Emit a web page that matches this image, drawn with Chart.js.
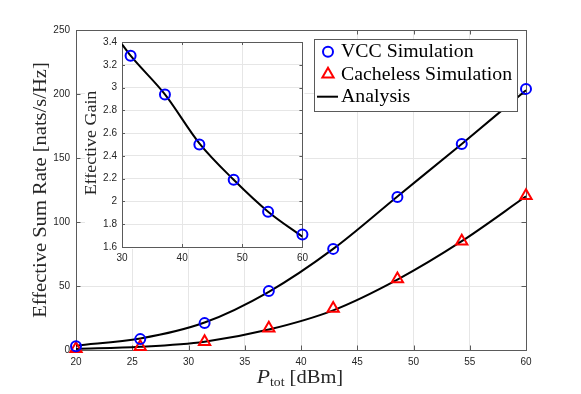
<!DOCTYPE html>
<html>
<head>
<meta charset="utf-8">
<script src="https://cdn.jsdelivr.net/npm/chart.js@4.4.1/dist/chart.umd.min.js"></script>
<style>
  html, body { margin: 0; padding: 0; background: #fff; }
  #wrap { position: relative; width: 581px; height: 394px; }
  #mainChart { position: absolute; left: 0; top: 0; }
  #insetChart { position: absolute; left: 85px; top: 31px; }
</style>
</head>
<body>
<div id="wrap">
  <canvas id="mainChart" width="581" height="394"></canvas>
  <canvas id="insetChart" width="228" height="235"></canvas>
</div>
<script>
// main plot data
const powerDbm = [20, 25.71, 31.43, 37.14, 42.86, 48.57, 54.29, 60];
const vccSim = [3, 8.5, 21, 46, 79, 119.5, 161, 204];
const cachelessSim = [1, 2.5, 6.5, 17, 32.5, 55.5, 85, 120.5];
const vccAnalysis = [3.4, 9, 21.5, 45.5, 79, 120, 161, 203];
const cachelessAnalysis = [0.8, 2.5, 6.5, 16, 31, 55, 85, 120];
const xTicks = [20, 25, 30, 35, 40, 45, 50, 55, 60];
const yTicks = [0, 50, 100, 150, 200, 250];

// inset data
const gainX = [31.43, 37.14, 42.86, 48.57, 54.29, 60];
const gainSim = [3.28, 2.94, 2.50, 2.19, 1.91, 1.71];
const gainAnalysisX = [30, 31.43, 37.14, 42.86, 48.57, 54.29, 60];
const gainAnalysis = [3.38, 3.28, 2.94, 2.51, 2.19, 1.91, 1.69];
const insetXTicks = [30, 40, 50, 60];
const insetYTicks = [1.6, 1.8, 2, 2.2, 2.4, 2.6, 2.8, 3, 3.2, 3.4];

Chart.defaults.font.family = '"Liberation Sans", Arial, sans-serif';

const pts = (xs, ys) => xs.map((x, i) => ({ x: x, y: ys[i] }));

function axis(min, max, ticks, fit, pad) {
  return {
    type: 'linear',
    min: min,
    max: max,
    afterBuildTicks: s => { s.ticks = ticks.map(v => ({ value: v })); },
    afterFit: fit,
    grid: { color: '#e6e6e6', drawTicks: false, lineWidth: 1 },
    border: { display: false },
    ticks: {
      color: '#262626',
      font: { size: 10 },
      padding: pad,
      maxRotation: 0,
      autoSkip: false,
      callback: v => String(v)
    }
  };
}

// serif text a little wider than Liberation Serif, closer to the LaTeX look
function wideText(ctx, text, x, y, stretch) {
  ctx.save();
  ctx.translate(x, y);
  ctx.scale(stretch, 1);
  ctx.fillText(text, 0, 0);
  ctx.restore();
}

// box round the plot area with inward ticks on all four sides
const matlabBox = {
  id: 'matlabBox',
  beforeDatasetsDraw(chart, args, o) {
    const { ctx, chartArea: a } = chart;
    const xs = chart.scales.x, ys = chart.scales.y;
    ctx.save();
    ctx.strokeStyle = '#5a5a5a';
    ctx.lineWidth = 1;
    ctx.beginPath();
    xs.ticks.forEach(t => {
      const p = Math.round(xs.getPixelForValue(t.value)) + 0.5;
      ctx.moveTo(p, a.bottom); ctx.lineTo(p, a.bottom - o.len);
      ctx.moveTo(p, a.top); ctx.lineTo(p, a.top + o.len);
    });
    ys.ticks.forEach(t => {
      const p = Math.round(ys.getPixelForValue(t.value)) + 0.5;
      ctx.moveTo(a.left, p); ctx.lineTo(a.left + o.len, p);
      ctx.moveTo(a.right, p); ctx.lineTo(a.right - o.len, p);
    });
    ctx.stroke();
    ctx.strokeRect(Math.round(a.left) + 0.5, Math.round(a.top) + 0.5,
      Math.round(a.right - a.left), Math.round(a.bottom - a.top));
    ctx.restore();
  }
};

const axisTitles = {
  id: 'axisTitles',
  afterDraw(chart, args, o) {
    const ctx = chart.ctx;
    ctx.save();
    ctx.fillStyle = '#262626';
    ctx.textBaseline = 'middle';
    ctx.textAlign = 'center';
    ctx.font = o.ySize + 'px "Liberation Serif", serif';
    ctx.translate(o.yX, o.yY);
    ctx.rotate(-Math.PI / 2);
    wideText(ctx, o.yText, 0, 0, o.stretch);
    ctx.restore();

    if (o.xParts) {
      ctx.save();
      ctx.fillStyle = '#262626';
      ctx.textBaseline = 'alphabetic';
      ctx.textAlign = 'left';
      let w = 0;
      o.xParts.forEach(p => { ctx.font = p.font; w += ctx.measureText(p.text).width * o.stretch; });
      let x = o.xX - w / 2;
      o.xParts.forEach(p => {
        ctx.font = p.font;
        wideText(ctx, p.text, x, o.xY + (p.dy || 0), o.stretch);
        x += ctx.measureText(p.text).width * o.stretch;
      });
      ctx.restore();
    }
  }
};

const boxLegend = {
  id: 'boxLegend',
  afterDraw(chart, args, o) {
    const ctx = chart.ctx;
    const items = chart.data.datasets.filter(d => d.label);
    ctx.save();
    ctx.fillStyle = '#fff';
    ctx.fillRect(o.x, o.y, o.w, o.h);
    ctx.strokeStyle = '#5a5a5a';
    ctx.lineWidth = 1;
    ctx.strokeRect(o.x + 0.5, o.y + 0.5, o.w, o.h);
    items.forEach((d, i) => {
      const cy = o.y + o.first + i * o.step;
      const cx = o.x + o.marker;
      if (d.showLine === false) {
        ctx.strokeStyle = d.borderColor;
        ctx.fillStyle = 'rgba(0,0,0,0)';
        ctx.lineWidth = d.borderWidth;
        Chart.helpers.drawPoint(ctx, { pointStyle: d.pointStyle, radius: d.pointRadius, borderWidth: d.borderWidth, rotation: 0 }, cx, cy);
      } else {
        ctx.strokeStyle = d.borderColor;
        ctx.lineWidth = d.borderWidth;
        ctx.beginPath();
        ctx.moveTo(cx - 11, cy); ctx.lineTo(cx + 10, cy);
        ctx.stroke();
      }
      ctx.fillStyle = '#000';
      ctx.font = o.size + 'px "Liberation Serif", serif';
      ctx.textBaseline = 'middle';
      ctx.textAlign = 'left';
      wideText(ctx, d.label, o.x + o.textX, cy + 1, o.stretch);
    });
    ctx.restore();
  }
};

const insetBg = {
  id: 'insetBg',
  beforeDraw(chart) {
    const { ctx, chartArea: a } = chart;
    ctx.save();
    ctx.fillStyle = '#fff';
    ctx.fillRect(0, 0, a.right + 2, a.bottom + 2);
    ctx.restore();
  }
};

new Chart(document.getElementById('mainChart'), {
  type: 'scatter',
  data: {
    datasets: [
      {
        label: 'VCC Simulation',
        data: pts(powerDbm, vccSim),
        showLine: false,
        pointStyle: 'circle',
        pointRadius: 5,
        borderWidth: 2,
        borderColor: '#0000ff',
        backgroundColor: 'rgba(0,0,0,0)',
        clip: false
      },
      {
        label: 'Cacheless Simulation',
        data: pts(powerDbm, cachelessSim),
        showLine: false,
        pointStyle: 'triangle',
        pointRadius: 6.5,
        borderWidth: 2,
        borderColor: '#ff0000',
        backgroundColor: 'rgba(0,0,0,0)',
        clip: false
      },
      {
        label: 'Analysis',
        data: pts(powerDbm, vccAnalysis),
        showLine: true,
        pointRadius: 0,
        borderWidth: 2,
        borderColor: '#000',
        cubicInterpolationMode: 'monotone'
      },
      {
        label: '',
        data: pts(powerDbm, cachelessAnalysis),
        showLine: true,
        pointRadius: 0,
        borderWidth: 2,
        borderColor: '#000',
        cubicInterpolationMode: 'monotone'
      }
    ]
  },
  options: {
    responsive: false,
    animation: false,
    layout: { padding: { top: 30, right: 55, left: 0, bottom: 0 } },
    scales: {
      x: axis(20, 60, xTicks, s => { s.height = 44; }, 6),
      y: axis(0, 250, yTicks, s => { s.width = 76; }, 6)
    },
    plugins: {
      legend: { display: false },
      tooltip: { enabled: false },
      matlabBox: { len: 4.5 },
      axisTitles: {
        yText: 'Effective Sum Rate [nats/s/Hz]', ySize: 18, yX: 41, yY: 190, stretch: 1.14,
        xX: 300, xY: 383,
        xParts: [
          { text: 'P', font: 'italic 19px "Liberation Serif", serif' },
          { text: 'tot', font: '12px "Liberation Serif", serif', dy: 3 },
          { text: ' [dBm]', font: '18px "Liberation Serif", serif' }
        ]
      },
      boxLegend: { x: 314, y: 39, w: 203, h: 72, first: 12.7, step: 22.5, marker: 14, textX: 27, size: 18, stretch: 1.1 }
    }
  },
  plugins: [matlabBox, axisTitles, boxLegend]
});

new Chart(document.getElementById('insetChart'), {
  type: 'scatter',
  data: {
    datasets: [
      {
        label: 'VCC Gain',
        data: pts(gainX, gainSim),
        showLine: false,
        pointStyle: 'circle',
        pointRadius: 5,
        borderWidth: 2,
        borderColor: '#0000ff',
        backgroundColor: 'rgba(0,0,0,0)',
        clip: false
      },
      {
        label: 'Gain Analysis',
        data: pts(gainAnalysisX, gainAnalysis),
        showLine: true,
        pointRadius: 0,
        borderWidth: 2,
        borderColor: '#000',
        cubicInterpolationMode: 'monotone'
      }
    ]
  },
  options: {
    responsive: false,
    animation: false,
    layout: { padding: { top: 6, right: 8, left: 0, bottom: 0 } },
    scales: {
      x: axis(30, 60, insetXTicks, s => { s.height = 19; }, 5),
      y: axis(1.6, 3.4, insetYTicks, s => { s.width = 37; }, 5)
    },
    plugins: {
      legend: { display: false },
      tooltip: { enabled: false },
      matlabBox: { len: 3 },
      axisTitles: { yText: 'Effective Gain', ySize: 16, yX: 7, yY: 112, stretch: 1.12 }
    }
  },
  plugins: [insetBg, matlabBox, axisTitles]
});
</script>
</body>
</html>
